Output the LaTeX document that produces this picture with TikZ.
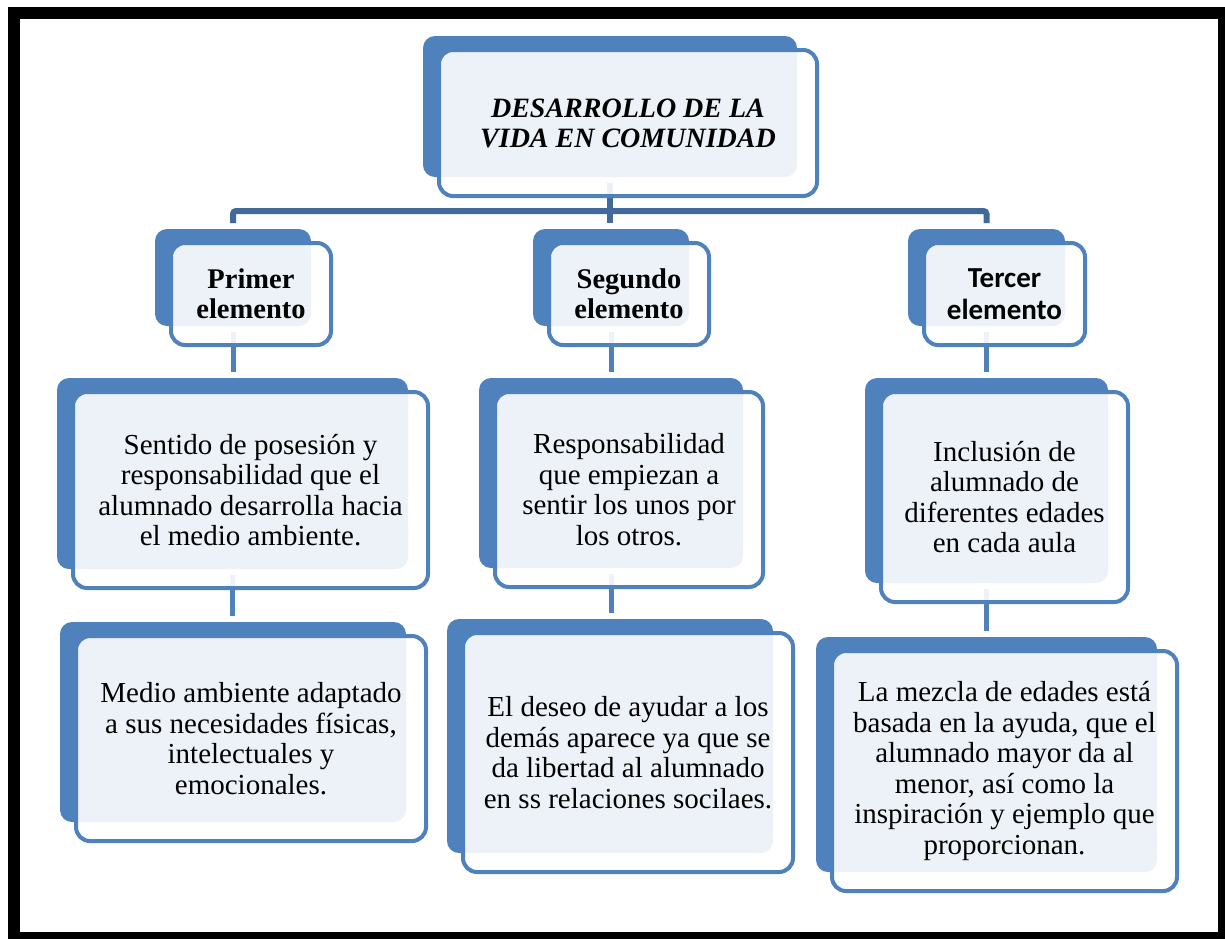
\documentclass[tikz,border=0pt]{standalone}
\usepackage{fontspec}
\setmainfont{Liberation Serif}
\newfontfamily\calibri{Carlito}
\usetikzlibrary{backgrounds}
\definecolor{accent}{HTML}{4F81BD}
\definecolor{bardark}{HTML}{41699B}
\tikzset{
  backshape/.style={fill=accent, rounded corners=12pt},
  frontshape/.style={draw=accent, line width=4pt, fill=white, fill opacity=0.9, rounded corners=14pt},
  boxtext/.style={align=center, inner sep=0pt, text=black},
  bodytxt/.style={boxtext, font=\fontsize{29}{30.5}\selectfont},
  titletxt/.style={boxtext, font=\fontsize{28}{30}\selectfont\bfseries\itshape},
  elemtxt/.style={boxtext, font=\fontsize{28.5}{30}\selectfont\bfseries},
  calitxt/.style={boxtext, font=\calibri\bfseries\fontsize{29}{32}\selectfont},
  bar/.style={draw=bardark, line width=6pt, rounded corners=3pt},
  link/.style={draw=accent, line width=5pt},
}
% #1 text style, #2 name, #3-#6 back shape corners, #7 text
\newcommand{\smbox}[7][bodytxt]{%
  \fill[backshape] (#3,#4) rectangle (#5,#6);
  \draw[frontshape] ({#3+16},{#4+14}) rectangle ({#5+20},{#6+19});
  \node[#1] (#2) at ({(#3+#5+36)/2},{(#4+#6+33)/2}) {#7};
  \coordinate (#2-n) at ({(#3+#5)/2},{#4-6});
  \coordinate (#2-s) at ({(#3+#5)/2},{#6+6});
}
\begin{document}
\begin{tikzpicture}[x=1pt, y=-1pt]
\useasboundingbox (0,0) rectangle (1225,938);
\clip (0,0) rectangle (1225,938);

\smbox[titletxt]{top}{423}{36}{797}{177}{DESARROLLO DE LA\\VIDA EN COMUNIDAD}
\smbox[elemtxt]{prim}{155}{229}{311}{326}{Primer\\elemento}
\smbox[elemtxt]{seg}{533}{229}{689}{326}{Segundo\\elemento}
\smbox[calitxt]{terc}{908}{229}{1065}{326}{Tercer\\elemento}
\smbox{sent}{57}{378}{408}{569}{Sentido de posesión y\\responsabilidad que el\\alumnado desarrolla hacia\\el medio ambiente.}
\smbox{resp}{479}{378}{743}{568}{Responsabilidad\\que empiezan a\\sentir los unos por\\los otros.}
\smbox{incl}{865}{378}{1108}{583}{Inclusión de\\alumnado de\\diferentes edades\\en cada aula}
\smbox{medio}{60}{622}{406}{822}{Medio ambiente adaptado\\a sus necesidades físicas,\\intelectuales y\\emocionales.}
\smbox{deseo}{447}{619}{773}{853}{El deseo de ayudar a los\\demás aparece ya que se\\da libertad al alumnado\\en ss relaciones socilaes.}
\smbox{mezcla}{816}{637}{1157}{872}{La mezcla de edades está\\basada en la ayuda, que el\\alumnado mayor da al\\menor, así como la\\inspiración y ejemplo que\\proporcionan.}

\begin{scope}[on background layer]
  \coordinate (hub) at (610,211);
  \draw[bar] (prim-n) |- (hub) -| (terc-n);
  \draw[bar] (top-s) -- (top-s |- seg-n);
  \draw[link] (prim-s) -- (prim-s |- sent-n);
  \draw[link] (seg-s) -- (seg-s |- resp-n);
  \draw[link] (terc-s) -- (terc-s |- incl-n);
  \draw[link] (sent-s) -- (sent-s |- medio-n);
  \draw[link] (resp-s) -- (resp-s |- deseo-n);
  \draw[link] (incl-s) -- (incl-s |- mezcla-n);
\end{scope}

\draw[line width=12pt] (14,13) rectangle (1224,938);
\end{tikzpicture}
\end{document}
